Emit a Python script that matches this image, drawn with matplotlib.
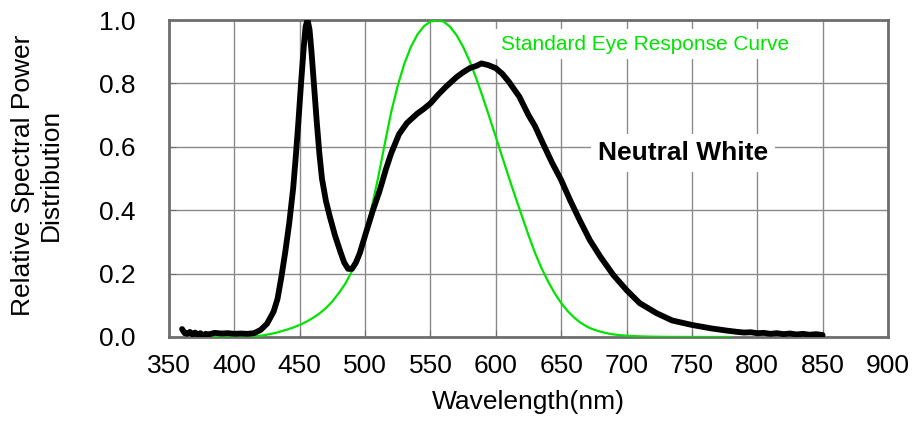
import matplotlib
matplotlib.use("Agg")
import matplotlib.pyplot as plt

plt.rcParams['font.family'] = ['Liberation Sans', 'DejaVu Sans']

# Neutral white LED spectrum
led_wl = [360, 362, 364, 366, 368, 370, 372, 374, 376, 378, 380, 385, 390, 395, 400,
          405, 410, 415, 420, 425, 430, 433, 436, 439, 442, 445, 447, 449, 451, 453,
          454.5, 456, 457.5, 459, 461, 463, 465, 467, 470, 473, 477, 481, 484, 487,
          490, 493, 496, 500, 506, 511, 516, 520, 526, 532, 540, 545, 550, 556, 562,
          570, 575, 580, 585, 589, 594, 600, 605, 610, 618, 625, 630, 636, 643, 650,
          657, 664, 672, 680, 690, 700, 710, 723, 735, 750, 765, 777, 785, 790, 795,
          800, 805, 810, 815, 820, 825, 830, 835, 840, 845, 850]
led_val = [0.025, 0.012, 0.010, 0.016, 0.008, 0.014, 0.006, 0.012, 0.004, 0.010, 0.008,
           0.013, 0.011, 0.012, 0.010, 0.011, 0.010, 0.012, 0.022, 0.042, 0.080, 0.12,
           0.19, 0.27, 0.36, 0.47, 0.57, 0.68, 0.80, 0.91, 0.98, 1.00, 0.97, 0.90, 0.79,
           0.68, 0.58, 0.50, 0.43, 0.38, 0.32, 0.27, 0.235, 0.215, 0.215, 0.235, 0.265,
           0.32, 0.40, 0.46, 0.53, 0.58, 0.64, 0.675, 0.705, 0.72, 0.737, 0.765, 0.79,
           0.82, 0.835, 0.848, 0.855, 0.863, 0.858, 0.848, 0.83, 0.805, 0.758, 0.70,
           0.665, 0.611, 0.55, 0.495, 0.43, 0.37, 0.305, 0.253, 0.195, 0.148, 0.107,
           0.075, 0.052, 0.038, 0.027, 0.020, 0.016, 0.014, 0.015, 0.012, 0.013, 0.010,
           0.012, 0.009, 0.011, 0.008, 0.010, 0.007, 0.009, 0.006]

# Standard eye response curve
eye_wl = list(range(380, 785, 5))
eye_val = [0.000039, 0.000064, 0.00012, 0.000217, 0.000396, 0.00064, 0.00121, 0.00218,
           0.004, 0.0073, 0.0116, 0.01684, 0.023, 0.0298, 0.038, 0.048, 0.06, 0.0739,
           0.09098, 0.1126, 0.13902, 0.1693, 0.20802, 0.2586, 0.323, 0.4073, 0.503,
           0.6082, 0.71, 0.7932, 0.862, 0.91485, 0.954, 0.9803, 0.99495, 1.0, 0.995,
           0.9786, 0.952, 0.9154, 0.87, 0.8163, 0.757, 0.6949, 0.631, 0.5668, 0.503,
           0.4412, 0.381, 0.321, 0.265, 0.217, 0.175, 0.1382, 0.107, 0.0816, 0.061,
           0.04458, 0.032, 0.0232, 0.017, 0.01192, 0.00821, 0.005723, 0.004102,
           0.002929, 0.002091, 0.001484, 0.001047, 0.00074, 0.00052, 0.000361,
           0.000249, 0.000172, 0.00012, 0.0000848, 0.00006, 0.0000424, 0.00003,
           0.0000212, 0.000015]

x_ticks = list(range(350, 901, 50))
y_ticks = [0.0, 0.2, 0.4, 0.6, 0.8, 1.0]

green = '#00e400'

fig = plt.figure(figsize=(9.15, 4.24), dpi=100)
ax = fig.add_axes([169/915, 1-337/424, (888-169)/915, (337-20)/424])

ax.plot(eye_wl, eye_val, color=green, lw=1.6, zorder=3)
ax.plot(led_wl, led_val, color='black', lw=4.2, zorder=4,
        solid_joinstyle='round', solid_capstyle='round')

ax.set_xlim(350, 900)
ax.set_ylim(0, 1.0)
ax.set_xticks(x_ticks)
ax.set_yticks(y_ticks)
ax.set_yticklabels([f"{v:.1f}" for v in y_ticks])
ax.grid(True, color='#8a8a8a', lw=1.0, zorder=0)
ax.set_axisbelow(True)
for s in ax.spines.values():
    s.set_color('#6e6e6e')
    s.set_linewidth(2.0)
ax.tick_params(axis='both', direction='in', length=5, color='#6e6e6e',
               labelsize=19, labelcolor='black')
ax.tick_params(axis='y', pad=24)
ax.tick_params(axis='x', pad=12)

ax.text(714, 0.924, 'Standard Eye Response Curve', color=green, fontsize=15,
        ha='center', va='center', zorder=2,
        bbox=dict(facecolor='white', edgecolor='none', pad=4))
ax.text(743, 0.580, 'Neutral White', color='black', fontsize=19, fontweight='bold',
        ha='center', va='center', zorder=2,
        bbox=dict(facecolor='white', edgecolor='none', pad=5))

fig.text(37/915, 1-175/424, 'Relative Spectral Power\nDistribution', rotation=90,
         ha='center', va='center', multialignment='center', fontsize=19)
fig.text(528/915, 1-402/424, 'Wavelength(nm)', ha='center', va='center', fontsize=19)

fig.savefig('out.png', dpi=100)
